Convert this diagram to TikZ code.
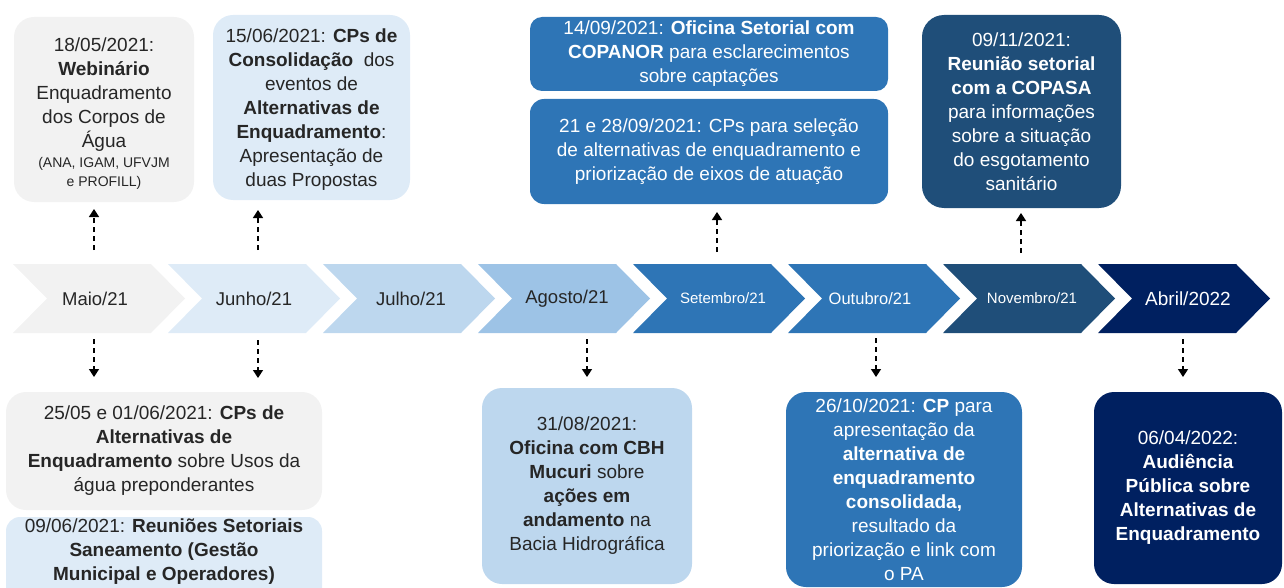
\documentclass[tikz,border=0pt]{standalone}
\usepackage{fontspec}
\setmainfont{Liberation Sans}
\usetikzlibrary{arrows.meta}
\definecolor{cgray}{HTML}{F2F2F2}
\definecolor{cblue1}{HTML}{DEEBF7}
\definecolor{cblue2}{HTML}{BDD7EE}
\definecolor{cblue3}{HTML}{9DC3E6}
\definecolor{cblue4}{HTML}{2E75B6}
\definecolor{cblue5}{HTML}{1F4E79}
\definecolor{cnavy}{HTML}{002060}
\definecolor{ctext}{HTML}{262626}
\begin{document}
\begin{tikzpicture}[x=1pt,y=-1pt,
  box/.style={rounded corners=20pt, inner sep=0pt, align=center, text=ctext,
    font=\fontsize{19}{24}\selectfont},
  wbox/.style={box, text=white},
  chev/.pic={\fill[pic actions] (-86,-34.5) -- (52,-34.5) -- (86,0) -- (52,34.5) -- (-86,34.5) -- (-52,0) -- cycle;},
  chevlbl/.style={inner sep=0pt, text=ctext, font=\fontsize{18.5}{22}\selectfont},
  darr/.style={black, line width=1.5pt, dash pattern=on 5pt off 4pt, -{Triangle[length=8pt,width=10pt]}}
]
\useasboundingbox (0,0) rectangle (1284,588);
\clip (0,0) rectangle (1284,588);

% chevrons
\pic[fill=cgray]  at (99,298.5)  {chev};
\pic[fill=cblue1] at (254,298.5) {chev};
\pic[fill=cblue2] at (409,298.5) {chev};
\pic[fill=cblue3] at (564,298.5) {chev};
\pic[fill=cblue4] at (719,298.5) {chev};
\pic[fill=cblue4] at (874,298.5) {chev};
\pic[fill=cblue5] at (1029,298.5) {chev};
\pic[fill=cnavy]  at (1184,298.5) {chev};
\node[chevlbl] (m1) at (95,298.5)  {Maio/21};
\node[chevlbl] (m2) at (254,298.5) {Junho/21};
\node[chevlbl] (m3) at (411,298.5) {Julho/21};
\node[chevlbl] (m4) at (567,298.5) {Agosto/21};
\node[chevlbl, text=white, font=\fontsize{15}{18}\selectfont] (m5) at (723,298.5) {Setembro/21};
\node[chevlbl, text=white, font=\fontsize{16.5}{19}\selectfont] (m6) at (870,298.5) {Outubro/21};
\node[chevlbl, text=white, font=\fontsize{15}{18}\selectfont] (m7) at (1032,298.5) {Novembro/21};
\node[chevlbl, text=white, font=\fontsize{19}{22}\selectfont] (m8) at (1188,298.5) {Abril/2022};

% top boxes
\node[box, fill=cgray, minimum width=180pt, minimum height=185pt] (webinar) at (104,109.5)
 {\rule{0pt}{22pt}18/05/2021:\\\textbf{Webinário}\\Enquadramento\\dos Corpos de\\Água\\[-4pt]{\fontsize{14}{18}\selectfont (ANA, IGAM, UFVJM}\\[-5pt]{\fontsize{14}{18}\selectfont e PROFILL)}};
\node[box, fill=cblue1, minimum width=197pt, minimum height=185pt] (consol) at (311.5,107.5)
 {\rule{0pt}{18pt}15/06/2021: \textbf{CPs de}\\\textbf{Consolidação}\ \ dos\\eventos de\\\textbf{Alternativas de}\\\textbf{Enquadramento}:\\Apresentação de\\duas Propostas};
\node[wbox, fill=cblue4, rounded corners=12pt, minimum width=358pt, minimum height=74pt] (copanor) at (709,54)
 {14/09/2021: \textbf{Oficina Setorial com}\\\textbf{COPANOR} para esclarecimentos\\sobre captações};
\node[wbox, fill=cblue4, rounded corners=14pt, minimum width=358pt, minimum height=105pt] (selecao) at (709,151.5)
 {21 e 28/09/2021: CPs para seleção\\de alternativas de enquadramento e\\priorização de eixos de atuação};
\node[wbox, fill=cblue5, rounded corners=22pt, minimum width=199pt, minimum height=193pt] (copasa) at (1021.5,111.5)
 {09/11/2021:\\\textbf{Reunião setorial}\\\textbf{com a COPASA}\\para informações\\sobre a situação\\do esgotamento\\sanitário};

% bottom boxes
\node[box, fill=cgray, minimum width=316pt, minimum height=118pt] (usos) at (164,451)
 {25/05 e 01/06/2021: \textbf{CPs de}\\\textbf{Alternativas de}\\\textbf{Enquadramento} sobre Usos da\\água preponderantes};
\node[box, fill=cblue1, rounded corners=14pt, minimum width=316pt, minimum height=100pt] (saneam) at (164,567)
 {09/06/2021: \textbf{Reuniões Setoriais}\\\textbf{Saneamento (Gestão}\\\textbf{Municipal e Operadores)}\rule[-34pt]{0pt}{34pt}};
\node[box, fill=cblue2, minimum width=210pt, minimum height=196pt] (mucuri) at (587,486)
 {31/08/2021:\\\textbf{Oficina com CBH}\\\textbf{Mucuri} sobre\\\textbf{ações em}\\\textbf{andamento} na\\Bacia Hidrográfica};
\node[wbox, fill=cblue4, minimum width=236pt, minimum height=195pt] (consolid) at (904,489.5)
 {26/10/2021: \textbf{CP} para\\apresentação da\\\textbf{alternativa de}\\\textbf{enquadramento}\\\textbf{consolidada,}\\resultado da\\priorização e link com\\o PA};
\node[wbox, fill=cnavy, minimum width=188pt, minimum height=192pt] (audiencia) at (1188,488)
 {06/04/2022:\\\textbf{Audiência}\\\textbf{Pública sobre}\\\textbf{Alternativas de}\\\textbf{Enquadramento}};

% arrow end points
\coordinate (u1s) at (94,250);   \coordinate (u1e) at (94,209);
\coordinate (u2s) at (258,250);  \coordinate (u2e) at (258,210);
\coordinate (u3s) at (717,252);  \coordinate (u3e) at (717,212);
\coordinate (u4s) at (1021,253); \coordinate (u4e) at (1021,213);
\coordinate (d1s) at (94,339);   \coordinate (d1e) at (94,377);
\coordinate (d2s) at (258,340);  \coordinate (d2e) at (258,378);
\coordinate (d3s) at (587,339);  \coordinate (d3e) at (587,377);
\coordinate (d4s) at (876,338);  \coordinate (d4e) at (876,377);
\coordinate (d5s) at (1183,339); \coordinate (d5e) at (1183,377);
\foreach \a in {u1,u2,u3,u4,d1,d2,d3,d4,d5} \draw[darr] (\a s) -- (\a e);
\end{tikzpicture}
\end{document}
